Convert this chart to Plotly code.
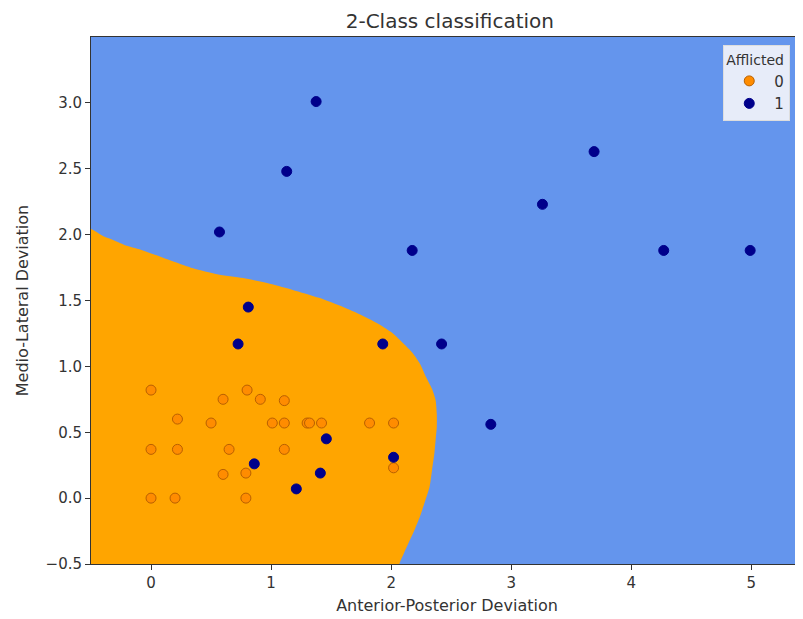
import plotly.graph_objects as go

# Class 0 (not afflicted)
x0 = [0.0, 0.80, 0.60, 0.91, 1.11, 0.22, 0.50, 1.01, 1.11, 1.30, 1.32, 1.42, 1.82, 2.02,
      0.0, 0.22, 0.65, 1.11, 0.60, 0.79, 2.02, 0.0, 0.20, 0.79]
y0 = [0.82, 0.82, 0.75, 0.75, 0.74, 0.60, 0.57, 0.57, 0.57, 0.57, 0.57, 0.57, 0.57, 0.57,
      0.37, 0.37, 0.37, 0.37, 0.18, 0.19, 0.23, 0.0, 0.0, 0.0]

# Class 1 (afflicted)
x1 = [1.46, 0.86, 1.41, 1.21, 2.02, 1.375, 1.13, 0.57, 2.175, 3.26, 3.69, 4.27, 4.99,
      0.81, 0.725, 1.93, 2.42, 2.83]
y1 = [0.45, 0.26, 0.19, 0.07, 0.31, 3.01, 2.48, 2.02, 1.88, 2.23, 2.63, 1.88, 1.88,
      1.45, 1.17, 1.17, 1.17, 0.56]

# Decision boundary of class-0 region
bx = [-0.6, -0.483, -0.40, -0.317, -0.20, -0.067, 0.10, 0.35, 0.55, 0.767, 1.0, 1.18, 1.40,
      1.6, 1.75, 1.88, 2.0, 2.1, 2.18, 2.24, 2.29, 2.34, 2.37, 2.38, 2.38, 2.37, 2.36, 2.34,
      2.32, 2.28, 2.24, 2.20, 2.155, 2.11, 2.07, 2.06, -0.6]
by = [2.08, 2.035, 1.99, 1.96, 1.915, 1.88, 1.825, 1.745, 1.70, 1.67, 1.625, 1.58, 1.52,
      1.45, 1.39, 1.33, 1.26, 1.175, 1.10, 1.02, 0.92, 0.83, 0.744, 0.64, 0.54, 0.44, 0.34, 0.21,
      0.086, -0.03, -0.14, -0.23, -0.32, -0.41, -0.496, -0.6, -0.6]

font = "DejaVu Sans"
tc = "#333"
fig = go.Figure()
fig.add_trace(go.Scatter(x=bx, y=by, mode="lines", fill="toself", fillcolor="#FFA500",
                         line=dict(width=0, color="#FFA500", shape="spline", smoothing=0.6),
                         showlegend=False, hoverinfo="skip"))
fig.add_trace(go.Scatter(x=x0, y=y0, mode="markers", name="0",
                         marker=dict(size=10, color="#FF8C00", line=dict(width=1, color="#B86000"))))
fig.add_trace(go.Scatter(x=x1, y=y1, mode="markers", name="1",
                         marker=dict(size=10, color="#00008B", line=dict(width=1, color="#00008B"))))

axis_common = dict(showgrid=False, zeroline=False, showline=True, linecolor="#333", linewidth=1,
                   mirror=True, ticks="outside", ticklen=5, tickcolor="#333", automargin=False,
                   tickfont=dict(family=font, size=15, color=tc))
fig.update_xaxes(range=[-0.5, 5.43], tickvals=[0, 1, 2, 3, 4, 5],
                 title=dict(text="Anterior-Posterior Deviation", font=dict(family=font, size=16, color=tc), standoff=8),
                 **axis_common)
fig.update_yaxes(range=[-0.5, 3.5], tickvals=[-0.5, 0, 0.5, 1.0, 1.5, 2.0, 2.5, 3.0], tickformat=".1f",
                 title=dict(text="Medio-Lateral Deviation", font=dict(family=font, size=16, color=tc), standoff=12),
                 **axis_common)
# page body has an 8px margin, so the figure is offset by 8px
fig.update_layout(
    width=795, height=611,
    margin=dict(l=83, r=0, t=29, b=55, autoexpand=False),
    paper_bgcolor="white", plot_bgcolor="#6495ED",
    title=dict(text="2-Class classification", xref="paper", x=0.504, xanchor="center",
               y=0.979, yanchor="middle",
               font=dict(family=font, size=20, color=tc), automargin=False),
    legend=dict(title=dict(text="Afflicted", font=dict(family=font, size=14, color=tc)),
                x=0.888, xanchor="left", y=0.984, yanchor="top",
                bgcolor="rgba(245,245,250,0.9)", bordercolor="#ddd", borderwidth=1,
                itemwidth=40, font=dict(family=font, size=15, color=tc)),
)
fig.write_html("out.html")
